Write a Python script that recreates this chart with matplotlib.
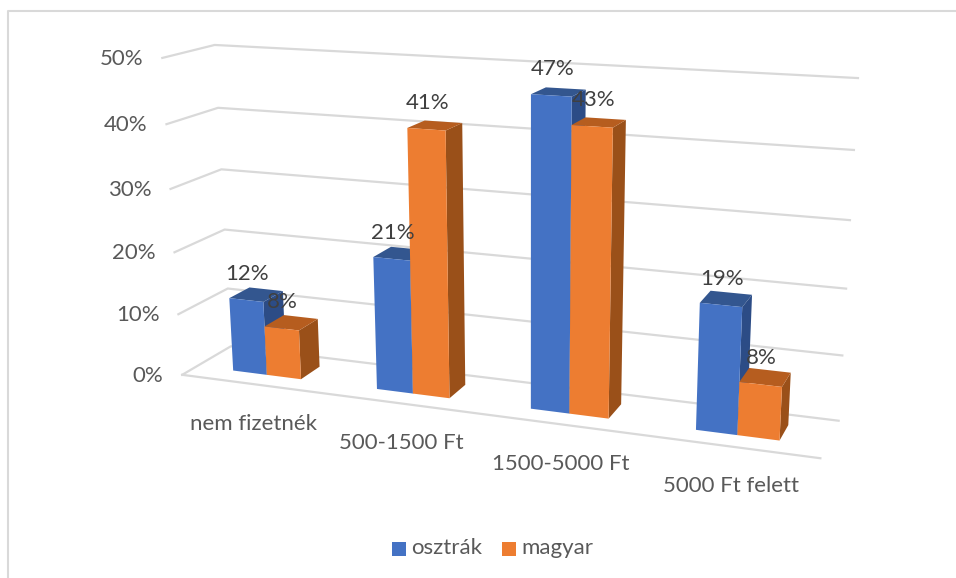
import numpy as np
import matplotlib
matplotlib.use("Agg")
import matplotlib.pyplot as plt
from matplotlib.patches import Polygon, Rectangle

categories = ["nem fizetnék", "500-1500 Ft", "1500-5000 Ft", "5000 Ft felett"]
series_names = ["osztrák", "magyar"]
osztrak = [12, 21, 47, 19]
magyar = [8, 41, 43, 8]
ticks = [0, 10, 20, 30, 40, 50]

# Camera calibration: (category position, depth, value) -> picture pixel
calib = [
    ((0, 0, 0), (181, 374)), ((0, 1, 0), (232, 347)),
    ((4, 1, 0), (838, 421)), ((4, 0, 0), (821, 458)),
    ((0, 0, 50), (163, 59)), ((0, 1, 50), (214, 44)),
    ((4, 1, 50), (858, 78)),
]
A = []
for (X, Y, Z), (px, py) in calib:
    A.append([X, Y, Z, 1, 0, 0, 0, 0, -px*X, -px*Y, -px*Z, -px])
    A.append([0, 0, 0, 0, X, Y, Z, 1, -py*X, -py*Y, -py*Z, -py])
CAM = np.linalg.svd(np.array(A, float))[2][-1].reshape(3, 4)


def proj(x, d, v):
    p = CAM @ np.array([x, d, v, 1.0])
    return p[0] / p[2], p[1] / p[2]


fig = plt.figure(figsize=(9.56, 5.78), dpi=100)
ax = fig.add_axes([0, 0, 1, 1])
ax.set_xlim(0, 956)
ax.set_ylim(578, 0)
ax.axis("off")
FONT = "Lato"
GRID = "#D9D9D9"

ax.plot([8, 8, 956], [578, 11, 11], color=GRID, lw=1.5, solid_capstyle="butt")

for t in ticks:
    pts = [proj(0, 0, t), proj(0, 1, t), proj(4, 1, t)]
    ax.plot(*zip(*pts), color=GRID, lw=1.6, zorder=1)
    px, py = proj(0, 0, t)
    ax.text(px - 19, py + 1, f"{t}%", ha="right", va="center", fontsize=16,
            color="#595959", family=FONT)
ax.plot(*zip(proj(0, 0, 0), proj(4, 0, 0)), color=GRID, lw=1.6, zorder=1)

COLS = [("#4472C4", "#33568F", "#2C4C86"), ("#ED7D31", "#B65D1F", "#9A5019")]
W = 0.24
D0, D1 = 0.30, 0.72
z = 2
for i, cat in enumerate(categories):
    c = i + 0.50
    for s, vals in enumerate([osztrak, magyar]):
        v = vals[i]
        x0 = c + (s - 1) * W
        x1 = x0 + W
        front, top, side = COLS[s][0], COLS[s][1], COLS[s][2]
        ax.add_patch(Polygon([proj(x1, D0, 0), proj(x1, D1, 0), proj(x1, D1, v), proj(x1, D0, v)],
                             fc=side, ec="none", zorder=z))
        ax.add_patch(Polygon([proj(x0, D0, v), proj(x1, D0, v), proj(x1, D1, v), proj(x0, D1, v)],
                             fc=top, ec="none", zorder=z))
        ax.add_patch(Polygon([proj(x0, D0, 0), proj(x1, D0, 0), proj(x1, D0, v), proj(x0, D0, v)],
                             fc=front, ec="none", zorder=z))
        z += 1
        lx, ly = proj((x0 + x1) / 2, D0, v)
        ax.annotate(f"{v}%", (lx, ly), xytext=(1, 26), textcoords="offset pixels",
                    ha="center", va="center", fontsize=16, color="#404040",
                    family=FONT, zorder=50)
    lx, ly = proj(c, 0, 0)
    ax.annotate(cat, (lx, ly), xytext=(1, -40), textcoords="offset pixels", ha="center",
                va="center", fontsize=16, color="#595959", family=FONT)

# Legend
for name, col, bx, tx in [(series_names[0], "#4472C4", 392, 411), (series_names[1], "#ED7D31", 502, 521)]:
    ax.add_patch(Rectangle((bx, 542), 14, 14, fc=col, ec="none"))
    ax.text(tx, 548, name, ha="left", va="center", fontsize=16, color="#595959", family=FONT)

fig.savefig("out.png", dpi=100)
